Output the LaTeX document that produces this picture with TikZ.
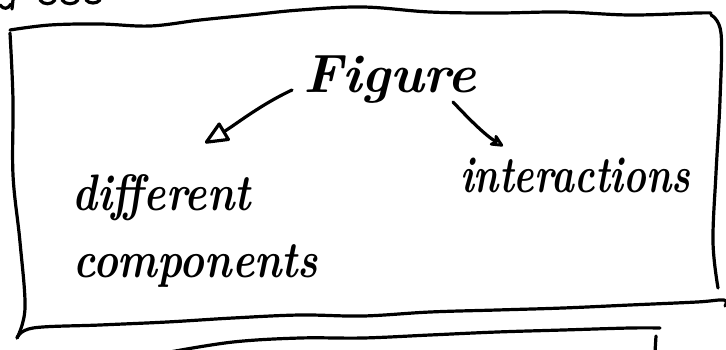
\documentclass[tikz,border=0pt]{standalone}
\usepackage{fontspec}
\usetikzlibrary{arrows.meta,calc}
\begin{document}
\begin{tikzpicture}[x=1pt,y=-1pt,
  ink/.style={line width=3.2pt,line cap=round,line join=round},
  hand/.style={font=\fontsize{42}{50}\selectfont\bfseries\itshape,inner sep=0pt,anchor=base west},
  tall/.style={yscale=1.22,transform shape},
  bigarr/.style={ink,-{Triangle[open,length=26pt,width=22pt,round]}},
  smallarr/.style={ink,-{Stealth[open,length=17pt,width=16pt,round]}}]
\useasboundingbox (0,0) rectangle (726,349);

% scraps of the line written above the frame
\draw[ink] (0,5) .. controls (4,10) and (8,9) .. (11,4);
\draw[ink] (13,0) -- (12,9);
\draw[ink] (40,0) .. controls (43,5) and (52,5) .. (55,0);
\draw[ink] (62,0) .. controls (65,5) and (75,5) .. (78,0);
\draw[ink] (86,0) .. controls (89,4) and (97,4) .. (100,0);

% hand-drawn frame
\draw[ink] plot[smooth,tension=0.6] coordinates {(10,30) (50,25) (100,24) (150,26) (200,20) (250,15) (300,10) (363,7) (430,12) (497,13) (563,12) (630,15) (697,13) (711,13)};
\draw[ink] plot[smooth,tension=0.6] coordinates {(711,15) (721,33) (720,100) (716,173) (713,242) (718,288)};
\draw[ink] plot[smooth,tension=0.6] coordinates {(10,33) (13,100) (13,175) (20,242) (25,308) (17,338)};
\draw[ink] plot[smooth,tension=0.6] coordinates {(17,338) (33,328) (100,325) (167,322) (233,318) (300,315) (363,316) (430,312) (497,310) (563,308) (630,305) (697,302) (724,300) (725,306)};

% second sheet underneath
\draw[ink] plot[smooth,tension=0.6] coordinates {(170,352) (233,342) (300,338) (363,338) (430,335) (497,332) (563,330) (630,328) (660,328)};
\draw[ink] (656,336) -- (655,352);

% labels
\node[hand,font=\fontsize{54}{60}\selectfont\bfseries\itshape] (fig) at (303,92) {Figure};
\node[hand,tall] (diff) at (72,210) {different};
\node[hand,tall] (comp) at (73,277) {components};
\node[hand,tall,xscale=0.92] (inter) at (460,192) {interactions};

% connectors
\draw[bigarr] ([shift={(-11,-2)}]fig.base west) .. controls (260,105) and (235,125) .. ([shift={(133,-67)}]diff.base west);
\draw[smallarr] ([shift={(150,10)}]fig.base west) .. controls (470,120) and (485,135) .. ([shift={(43,-46)}]inter.base west);
\end{tikzpicture}
\end{document}
